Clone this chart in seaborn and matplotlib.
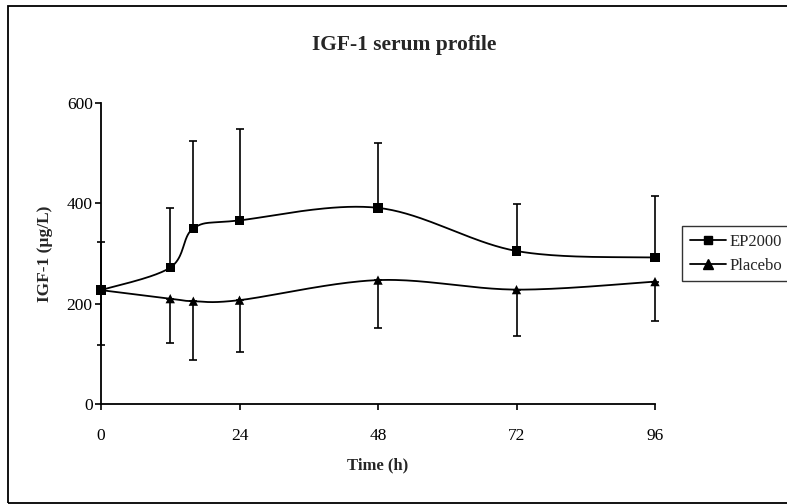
import numpy as np
import pandas as pd
import matplotlib
matplotlib.use("Agg")
import matplotlib.pyplot as plt
from matplotlib.lines import Line2D
from matplotlib.patches import Rectangle
import seaborn as sns

# ---- data ----
time_h = [0, 12, 16, 24, 48, 72, 96]
ep2000 = [227, 272, 350, 366, 391, 305, 292]
ep2000_err = [96, 119, 174, 182, 129, 93, 122]
placebo = [227, 210, 205, 207, 247, 228, 244]
placebo_err = [109, 89, 117, 104, 96, 92, 79]
series_names = ["EP2000", "Placebo"]
x_ticks = [0, 24, 48, 72, 96]
y_ticks = [0, 200, 400, 600]

sns.set_theme(style="white")
plt.rcParams["font.family"] = ["Liberation Serif", "DejaVu Serif"]


def smooth(xs, ys, n=40):
    """Excel-style smoothed line (Catmull-Rom Bezier) through the points."""
    P = np.column_stack([xs, ys]).astype(float)
    out = []
    for i in range(len(P) - 1):
        p0 = P[i - 1] if i > 0 else P[i]
        p1, p2 = P[i], P[i + 1]
        p3 = P[i + 2] if i + 2 < len(P) else P[i + 1]
        b1 = p1 + (p2 - p0) / 6.0
        b2 = p2 - (p3 - p1) / 6.0
        t = np.linspace(0, 1, n)[:, None]
        seg = ((1 - t) ** 3) * p1 + 3 * ((1 - t) ** 2) * t * b1 + 3 * (1 - t) * t ** 2 * b2 + t ** 3 * p2
        out.append(seg if i == 0 else seg[1:])
    out = np.vstack(out)
    return out[:, 0], out[:, 1]


fig = plt.figure(figsize=(7.87, 5.04), dpi=100)
ax = fig.add_axes([101 / 787, 1 - 404 / 504, (655 - 101) / 787, (404 - 103) / 504])

frames = []
for name, vals in zip(series_names, [ep2000, placebo]):
    sx, sy = smooth(time_h, vals)
    frames.append(pd.DataFrame({"t": sx, "v": sy, "series": name}))
curve = pd.concat(frames, ignore_index=True)

sns.lineplot(data=curve, x="t", y="v", units="series", estimator=None, sort=False,
             color="black", linewidth=1.3, ax=ax, legend=False)

# error bars: EP2000 upward, Placebo downward
ax.errorbar(time_h, ep2000, yerr=[np.zeros(len(ep2000)), ep2000_err], fmt="none",
            ecolor="black", elinewidth=1.2, capsize=3, capthick=1.2, clip_on=False, zorder=3)
ax.errorbar(time_h, placebo, yerr=[placebo_err, np.zeros(len(placebo))], fmt="none",
            ecolor="black", elinewidth=1.2, capsize=3, capthick=1.2, clip_on=False, zorder=3)

pts = pd.DataFrame({
    "t": time_h + time_h,
    "v": ep2000 + placebo,
    "series": [series_names[0]] * len(time_h) + [series_names[1]] * len(time_h),
})
sns.scatterplot(data=pts, x="t", y="v", style="series", markers={"EP2000": "s", "Placebo": "^"},
                color="black", s=45, edgecolor="black", linewidth=0, ax=ax, legend=False,
                clip_on=False, zorder=4)

ax.set_xlim(0, 96)
ax.set_ylim(0, 600)
ax.set_xticks(x_ticks)
ax.set_yticks(y_ticks)
ax.set_xticklabels([str(v) for v in x_ticks])
ax.set_yticklabels([str(v) for v in y_ticks])
for s in ["top", "right"]:
    ax.spines[s].set_visible(False)
for s in ["left", "bottom"]:
    ax.spines[s].set_color("black")
    ax.spines[s].set_linewidth(1.3)
ax.tick_params(axis="both", which="major", direction="out", length=4, width=1.2,
               color="black", labelsize=12.5, labelcolor="black", bottom=True, left=True)
ax.tick_params(axis="x", pad=13)
ax.tick_params(axis="y", pad=2)
ax.grid(False)
ax.set_facecolor("white")

ax.set_xlabel("Time (h)", fontsize=12, fontweight="bold", labelpad=10)
ax.set_ylabel("IGF-1 (µg/L)", fontsize=12.5, fontweight="bold", labelpad=10)
fig.text(404 / 787, 1 - 45 / 504, "IGF-1 serum profile", ha="center", va="center",
         fontsize=15.5, fontweight="bold")

handles = [
    Line2D([0], [0], color="black", lw=1.3, marker="s", markersize=6),
    Line2D([0], [0], color="black", lw=1.3, marker="^", markersize=7),
]
leg = fig.legend(handles, series_names, loc="upper left", bbox_to_anchor=(682 / 787, 1 - 226 / 504),
                 bbox_transform=fig.transFigure, borderaxespad=0, frameon=True, fancybox=False,
                 edgecolor="black", fontsize=12, handlelength=2.2, handletextpad=0.2,
                 borderpad=0.45, labelspacing=0.5)
leg.get_frame().set_linewidth(1.0)

# outer frame around the whole picture (right edge runs off the picture)
fig.patches.append(Rectangle((8 / 787, 1 / 504), (800 - 8) / 787, (504 - 7) / 504,
                             transform=fig.transFigure, fill=False, edgecolor="black",
                             linewidth=1.3, clip_on=False))

fig.savefig("out.png", dpi=100, facecolor="white")
